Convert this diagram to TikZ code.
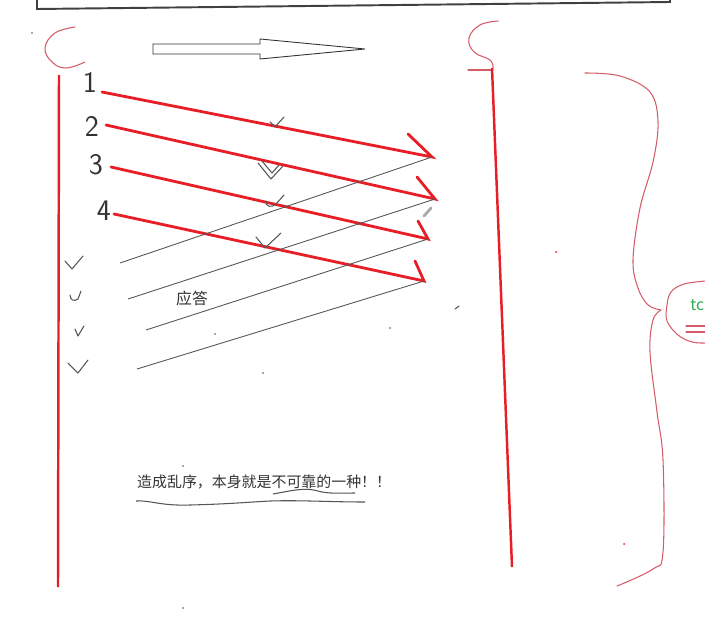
\documentclass[tikz,border=0pt]{standalone}
\usepackage{fontspec}
\newfontfamily\cjk{Noto Sans CJK SC}
\usetikzlibrary{arrows.meta}
\definecolor{penred}{RGB}{232,30,38}
\definecolor{bracered}{RGB}{212,92,104}
\definecolor{pengray}{RGB}{85,85,85}
\definecolor{tcgreen}{RGB}{46,172,80}

\begin{document}
\begin{tikzpicture}[x=0.02cm,y=-0.02cm,
    redline/.style={penred,line width=1.6pt,line cap=round},
    ackline/.style={pengray,line width=0.5pt},
    tick/.style={pengray,line width=0.6pt,line cap=round,line join=round},
    thinred/.style={bracered,line width=0.6pt,line cap=round},
    digit/.style={font=\sffamily\fontsize{17}{17}\selectfont,text=black!80},
    label/.style={font=\cjk\fontsize{8.5}{10}\selectfont,text=black!80}
]
    \clip (0,0) rectangle (705,625);
    % frame at the top
    \draw[black!75,line width=1.1pt] (37,-5) -- (37,9) -- (670,2) -- (670,-5);
    % sender side
    \draw[thinred] plot[smooth,tension=0.7] coordinates {(75,27) (55,33) (45,48) (52,62)
        (66,68) (85,62)};
    \draw[penred,line width=1.4pt] (59,75) -- (58,587);
    \fill[pengray] (32,33) circle (0.8);
    % hollow arrow
    \draw[black!80,line width=0.5pt] (153,44) -- (260,44) -- (260,39) -- (365,49)
        -- (260,59) -- (260,54) -- (153,54) -- cycle;
    % segments and their numbers
    \coordinate (s1) at (102,92);  \coordinate (e1) at (432,157); \coordinate (b1) at (408,134);
    \coordinate (s2) at (106,125); \coordinate (e2) at (435,199); \coordinate (b2) at (417,177);
    \coordinate (s3) at (111,167); \coordinate (e3) at (428,239); \coordinate (b3) at (418,221);
    \coordinate (s4) at (114,214); \coordinate (e4) at (424,281); \coordinate (b4) at (415,261);
    \node[digit] (n1) at (90,82) {1};
    \node[digit] (n2) at (92,126) {2};
    \node[digit] (n3) at (96,165) {3};
    \node[digit] (n4) at (104,211) {4};
    \draw[redline] (s1) -- (e1) -- (b1);
    \draw[redline] (s2) -- (e2) -- (b2);
    \draw[redline] (s3) -- (e3) -- (b3);
    \draw[redline] (s4) -- (e4) -- (b4);
    % replies
    \coordinate (a1) at (120,263);
    \coordinate (a2) at (128,299);
    \coordinate (a3) at (146,330);
    \coordinate (a4) at (137,369);
    \draw[ackline] (e1) -- (a1);
    \draw[ackline] (e2) -- (a2);
    \draw[ackline] (e3) -- (a3);
    \draw[ackline] (e4) -- (a4);
    \node[label,font=\cjk\fontsize{9}{10}\selectfont] (reply) at (192,298) {应答};
    % ticks
    \draw[tick] (270,122) -- (275,127) -- (284,117);
    \draw[tick] (258,163) -- (271,179) -- (283,166);
    \draw[tick] (262,161) -- (272,173) -- (279,165);
    \draw[tick] (266,201) .. controls (265,207) and (272,208) .. (276,204) -- (284,195);
    \draw[tick] (256,237) -- (265,248) -- (281,233);
    \draw[tick] (65,261) -- (72,269) -- (83,256);
    \draw[tick] (70,295) .. controls (70,300) and (74,302) .. (78,299) -- (81,291);
    \draw[tick] (75,329) -- (78,336) -- (84,326);
    \draw[tick] (68,363) -- (78,373) -- (88,360);
    \draw[pengray!50,line width=1.6pt,line cap=round] (424,216) -- (431,208);
    % stray dots
    \fill[pengray] (215,334) circle (0.8);
    \fill[pengray] (390,328) circle (0.8);
    \fill[pengray] (263,373) circle (0.8);
    \fill[pengray] (183,466) circle (0.8);
    \fill[pengray] (183,608) circle (0.8);
    \draw[tick] (455,309) -- (459,306);
    % note at the bottom
    \node[label,anchor=west] (note) at (131,482) {造成乱序，本身就是不可靠的一种！！};
    \draw[pengray,line width=0.6pt] (136,501) .. controls (150,500) and (160,506) .. (190,505)
        .. controls (230,504) and (250,502) .. (270,501) .. controls (300,500) and (330,502) .. (365,502);
    \draw[pengray,line width=0.6pt] (273,494) .. controls (290,491) and (305,487) .. (318,491)
        .. controls (328,494) and (340,493) .. (355,493);
    % receiver side
    \draw[thinred] plot[smooth,tension=0.7] coordinates {(498,21) (480,25) (469,38)
        (474,52) (490,60) (493,68)};
    \draw[thinred] (468,70) -- (492,70);
    \draw[penred,line width=1.4pt] (492,68) -- (512,567);
    \fill[penred] (556,252) circle (1);
    \fill[penred] (624,544) circle (1);
    % brace and bubble
    \draw[thinred] plot[smooth,tension=0.6] coordinates {(585,73) (620,76) (650,92) (658,122)
        (653,162) (640,208) (633,260) (638,288) (648,305) (661,310)};
    \draw[thinred] plot[smooth,tension=0.6] coordinates {(661,310) (653,320) (650,352)
        (657,412) (663,460) (663,552) (653,569) (617,586)};
    \draw[thinred] plot[smooth,tension=0.6] coordinates {(706,281) (684,284) (671,292)
        (667,305) (667,321) (678,335) (692,342) (706,343)};
    \node[font=\cjk\fontsize{9}{10}\selectfont,text=tcgreen,anchor=west,inner sep=0pt] (tc) at (690,305) {tc};
    \draw[thinred] (686,326) -- (706,326);
    \draw[thinred] (686,332) -- (706,332);
\end{tikzpicture}
\end{document}
